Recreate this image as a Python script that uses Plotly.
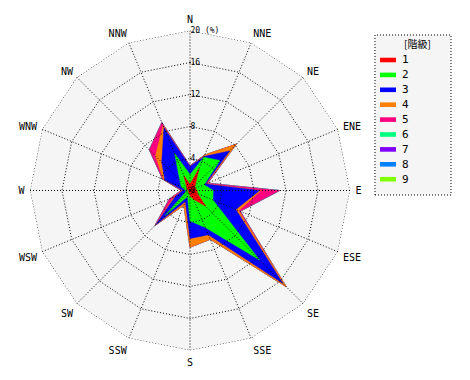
import numpy as np
import plotly.graph_objects as go

W, H = 470, 380
OFF = 8  # page body margin compensation (px)

directions = ["N", "NNE", "NE", "ENE", "E", "ESE", "SE", "SSE",
              "S", "SSW", "SW", "WSW", "W", "WNW", "NW", "NNW"]
classes = ["1", "2", "3", "4", "5", "6", "7", "8", "9"]
colors = ["#FF0000", "#00FF00", "#0000FF", "#FF8000", "#FF0080",
          "#00FF80", "#8000FF", "#0080FF", "#80FF00"]

# frequency (%) of each class per direction (not cumulative)
class1 = [0.8, 3.0, 0.9, 0.7, 0.9, 1.0, 2.8, 1.2, 0.7, 0.3, 0.3, 0.2, 0.2, 0.4, 0.6, 2.0]
class2 = [1.2, 1.5, 4.4, 1.2, 2.0, 2.1, 9.5, 3.8, 3.1, 0.5, 4.1, 0.4, 0.3, 0.8, 1.2, 3.0]
class3 = [1.0, 0.1, 1.7, 0.2, 5.8, 3.1, 4.1, 1.0, 2.2, 0.7, 1.6, 1.4, 0.4, 2.2, 3.2, 3.5]
class4 = [0.0, 0.2, 1.2, 0.1, 0.2, 0.4, 0.6, 0.6, 1.1, 0.5, 0.1, 0.2, 0.1, 0.2, 1.1, 0.3]
class5 = [0.1, 0.0, 0.0, 0.2, 2.3, 0.2, 0.0, 0.0, 0.0, 0.0, 0.1, 0.6, 0.1, 0.1, 1.1, 0.4]
class6 = [0.0] * 16
class7 = [0.0] * 16
class8 = [0.0] * 16
class9 = [0.0] * 16

radial_ticks = [0, 4, 8, 12, 16, 20]
radial_ticktext = ["0", "4", "8", "12", "16", "20 (%)"]
legend_title = "[階級]"

values = np.array([class1, class2, class3, class4, class5,
                   class6, class7, class8, class9])
cum = np.cumsum(values, axis=0)


def xp(px):
    return (px - OFF) / W


def yp(py):
    return 1 - (py - OFF) / H


fig = go.Figure()
theta_closed = directions + [directions[0]]

# stacked (cumulative) areas, largest drawn first
for k in range(len(classes) - 1, -1, -1):
    r = list(cum[k]) + [cum[k][0]]
    fig.add_trace(go.Scatterpolar(
        r=r, theta=theta_closed, mode="lines", fill="toself",
        fillcolor=colors[k], line=dict(color=colors[k], width=0.5),
        name=classes[k], showlegend=False, hoverinfo="skip"))

# dotted grid drawn above the areas
dot = "1px,2px"
for t in radial_ticks[1:]:
    fig.add_trace(go.Scatterpolar(
        r=[t] * (len(directions) + 1), theta=theta_closed, mode="lines",
        line=dict(color="black", width=1, dash=dot),
        showlegend=False, hoverinfo="skip"))
sr, st = [], []
for d in directions:
    sr += [0, radial_ticks[-1], None]
    st += [d, d, None]
fig.add_trace(go.Scatterpolar(
    r=sr, theta=st, mode="lines", connectgaps=False,
    line=dict(color="black", width=1, dash=dot),
    showlegend=False, hoverinfo="skip"))

cx, cy, R = 190, 190.5, 160
font_main = "DejaVu Sans Mono, Noto Sans CJK JP"

fig.update_layout(
    width=W, height=H,
    margin=dict(l=0, r=0, t=0, b=0),
    paper_bgcolor="white",
    showlegend=False,
    font=dict(family=font_main, size=10, color="black"),
    polar=dict(
        domain=dict(x=[xp(cx - R), xp(cx + R)],
                    y=[yp(cy + R), yp(cy - R)]),
        bgcolor="#f5f5f5",
        gridshape="linear",
        radialaxis=dict(range=[0, 20], tickvals=radial_ticks, ticktext=radial_ticktext,
                        angle=90, side="clockwise", tickangle=90,
                        showgrid=False, showline=False, ticks="",
                        tickfont=dict(size=8, family=font_main, color="black")),
        angularaxis=dict(type="category", categoryarray=directions,
                         direction="clockwise", rotation=90,
                         showgrid=False, showline=False,
                         ticks="outside", ticklen=3, tickcolor="rgba(0,0,0,0)",
                         tickfont=dict(size=10, family=font_main, color="black")),
    ),
)

# legend box (manual, dotted border)
lx0, lx1, ly0, ly1 = 375, 451, 35, 195
fig.add_shape(type="rect", xref="paper", yref="paper",
              x0=xp(lx0), x1=xp(lx1), y0=yp(ly1), y1=yp(ly0),
              line=dict(color="black", width=1, dash=dot), fillcolor="#f5f5f5",
              layer="below")
fig.add_annotation(x=xp(417), y=yp(44), xref="paper", yref="paper",
                   text=legend_title, showarrow=False, xanchor="center", yanchor="middle",
                   font=dict(size=10, family="Noto Sans CJK JP, DejaVu Sans Mono", color="black"))
for i, (c, col) in enumerate(zip(classes, colors)):
    yc = 60 + 14.9 * i
    fig.add_shape(type="rect", xref="paper", yref="paper",
                  x0=xp(380), x1=xp(396), y0=yp(yc + 2.3), y1=yp(yc - 2.3),
                  line=dict(width=0), fillcolor=col)
    fig.add_annotation(x=xp(399.5), y=yp(yc), xref="paper", yref="paper",
                       text=c, showarrow=False, xanchor="left", yanchor="middle",
                       font=dict(size=11, family=font_main, color="black"))

fig.write_html("out.html")
